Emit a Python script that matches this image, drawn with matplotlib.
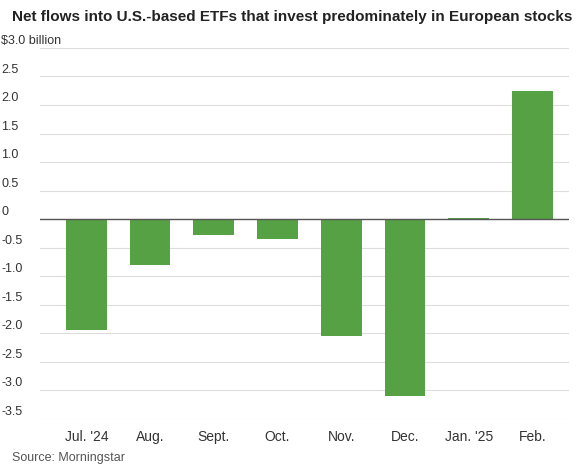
import matplotlib.pyplot as plt

months = ["Jul. '24", "Aug.", "Sept.", "Oct.", "Nov.", "Dec.", "Jan. '25", "Feb."]
flows = [-1.95, -0.80, -0.28, -0.35, -2.05, -3.10, 0.02, 2.25]
yticks = [3.0, 2.5, 2.0, 1.5, 1.0, 0.5, 0, -0.5, -1.0, -1.5, -2.0, -2.5, -3.0, -3.5]
ylabels = ["$3.0 billion", "2.5", "2.0", "1.5", "1.0", "0.5", "0", "-0.5", "-1.0",
           "-1.5", "-2.0", "-2.5", "-3.0", "-3.5"]

plt.rcParams["font.family"] = ["Liberation Sans Narrow", "Liberation Sans", "DejaVu Sans"]

fig = plt.figure(figsize=(5.78, 4.70), dpi=100)
ax = fig.add_axes([0.07, 0.109, 0.915, 0.789])

ax.bar(range(len(months)), flows, width=0.64, color="#55a144", zorder=3)
ax.set_xlim(-0.72, len(months) - 0.42)
ax.set_ylim(-3.5, 3.0)

for v in yticks:
    ax.axhline(v, color="#dddddd", lw=0.8, zorder=1)
ax.axhline(0, color="#555555", lw=1.0, zorder=4)

ax.set_yticks([])
for v, lab in zip(yticks, ylabels):
    ax.text(-0.074, v + 0.12, lab, transform=ax.get_yaxis_transform(),
            ha="left", va="center", fontsize=9, color="#333333")

ax.set_xticks(range(len(months)))
ax.set_xticklabels(months, fontsize=10, color="#333333")
ax.tick_params(axis="x", length=0, pad=8)
for s in ax.spines.values():
    s.set_visible(False)

fig.text(0.02, 0.955, "Net flows into U.S.-based ETFs that invest predominately in European stocks",
         fontsize=11, fontweight="bold", color="#222222")
fig.text(0.02, 0.02, "Source: Morningstar", fontsize=9, color="#555555")

fig.savefig("out.png", dpi=100)
